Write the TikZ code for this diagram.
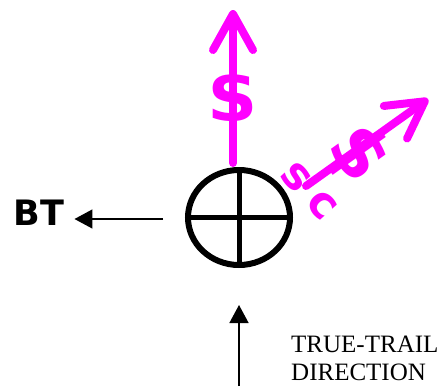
\documentclass[tikz,border=0pt]{standalone}
\usepackage{fontspec}
\setmainfont{Liberation Serif}
\newfontfamily\markfont{DejaVu Sans}
\usetikzlibrary{arrows.meta,shapes.geometric}
\definecolor{signmagenta}{RGB}{255,0,255}

\begin{document}
\begin{tikzpicture}[x=1pt,y=-1pt,
    pinkarrow/.style={signmagenta, line width=8pt, line cap=round,
      -{Straight Barb[length=36pt,width=40pt,round]}},
    blackarrow/.style={black, line width=1.5pt,
      -{Triangle[length=18pt,width=19pt]}},
    dollar/.style={signmagenta, inner sep=0pt,
      font=\markfont\bfseries\fontsize{72}{72}\selectfont}]
  \useasboundingbox (0,0) rectangle (441,386);
  % sight symbol (circle with cross)
  \node[draw, ellipse, line width=6pt, minimum width=102pt,
    minimum height=95pt, inner sep=0pt] (sight) at (239,217.5) {};
  \draw[line width=5pt] (sight.north) -- (sight.south);
  \draw[line width=5pt] (sight.west) -- (sight.east);
  % BT pointer
  \node[inner sep=0pt, font=\markfont\bfseries\fontsize{35}{35}\selectfont]
    (bt) at (39,212.5) {BT};
  \coordinate (btfrom) at (163,219);
  \draw[blackarrow, shorten >=10pt] (btfrom) -- (btfrom -| bt.east);
  % true trail direction
  \coordinate (trailfoot) at (239,386);
  \coordinate (trailtip) at (239,305);
  \draw[blackarrow] (trailfoot) -- (trailtip);
  \node[anchor=north west, align=left, inner sep=0pt,
    font=\fontsize{25}{28}\selectfont] (traillabel) at (291,336)
    {TRUE-TRAIL\\DIRECTION};
  % magenta vectors
  \coordinate (upfoot) at (233,163);
  \coordinate (uptip) at (233,10);
  \draw[pinkarrow] (upfoot) -- (uptip);
  \node[dollar] (updollar) at (233,99) {\$};
  \coordinate (scfoot) at (306,186);
  \coordinate (sctip) at (428,99);
  \draw[pinkarrow] (scfoot) -- (sctip);
  \node[dollar, rotate=-54.5] (scdollar) at (358,154) {\$};
  \node[signmagenta, inner sep=0pt, rotate=-48,
    font=\markfont\bfseries\fontsize{44}{44}\selectfont] (sclabel)
    at (309,191) {s\kern12pt c};
\end{tikzpicture}
\end{document}
